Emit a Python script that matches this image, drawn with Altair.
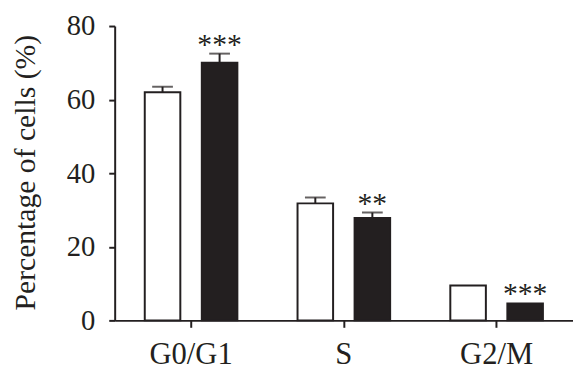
import altair as alt
import pandas as pd

phases = ["G0/G1", "S", "G2/M"]
groups = ["Control", "Treated"]
control_mean = [62.0, 31.8, 9.5]
control_sd = [1.5, 1.6, 0.0]
treated_mean = [70.0, 27.8, 4.6]
treated_sd = [2.5, 1.5, 0.0]
signif = ["***", "**", "***"]

rows = []
for i, p in enumerate(phases):
    rows.append(dict(phase=p, group="Control", mean=control_mean[i], sd=control_sd[i],
                     upper=control_mean[i] + control_sd[i], label=""))
    rows.append(dict(phase=p, group="Treated", mean=treated_mean[i], sd=treated_sd[i],
                     upper=treated_mean[i] + treated_sd[i], label=signif[i]))
df = pd.DataFrame(rows)

INK = "#231f20"
FONT = "Liberation Serif, Times New Roman, serif"

x = alt.X("phase:N", sort=phases,
          scale=alt.Scale(paddingInner=0, paddingOuter=0),
          axis=alt.Axis(title=None, labelAngle=0, labelFont=FONT, labelFontSize=31,
                        labelColor=INK, domainColor=INK, domainWidth=2, tickColor=INK,
                        tickWidth=2, tickSize=7, labelPadding=37,
                        labelBaseline="alphabetic"))
xo = alt.XOffset("group:N", sort=groups,
                 scale=alt.Scale(paddingInner=0, paddingOuter=0.339))
y_axis = alt.Axis(values=[0, 20, 40, 60, 80], title="Percentage of cells (%)", grid=False,
                  labelFont=FONT, labelFontSize=29, labelColor=INK, labelPadding=14,
                  domainColor=INK, domainWidth=2, tickColor=INK, tickWidth=2, tickSize=6,
                  titleFont=FONT, titleFontSize=30, titleFontWeight="normal", titleColor=INK,
                  titleBaseline="alphabetic", titleX=-81, titleY=148)
y = alt.Y("mean:Q", scale=alt.Scale(domain=[0, 80], nice=False, zero=True), axis=y_axis)

base = alt.Chart(df)

bars = base.mark_bar(size=36, stroke=INK, strokeWidth=2).encode(
    x=x, xOffset=xo, y=y,
    fill=alt.Fill("group:N", scale=alt.Scale(domain=groups, range=["white", INK]), legend=None),
)

err = base.transform_filter("datum.sd > 0")
stems = err.mark_rule(color=INK, strokeWidth=2).encode(
    x=x, xOffset=xo, y=alt.Y("mean:Q"), y2="upper:Q")
caps = err.mark_tick(color=INK, size=21, thickness=2, orient="horizontal").encode(
    x=x, xOffset=xo, y=alt.Y("upper:Q"))

stars = base.mark_text(font=FONT, fontSize=30, baseline="alphabetic", color=INK).encode(
    x=x, xOffset=xo, y=alt.Y("upper:Q"), text="label:N")

chart = alt.layer(bars, stems, caps, stars).properties(
    width=464, height=298,
    autosize=alt.AutoSizeParams(type="none"),
    padding={"left": 108, "top": 16, "right": 0, "bottom": 50},
).configure_view(stroke=None)

chart.save("out.html", embed_options={"renderer": "svg", "actions": False})
